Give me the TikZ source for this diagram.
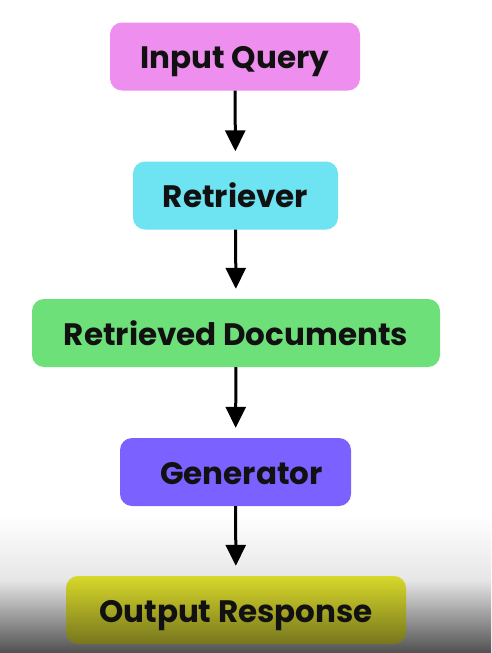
\documentclass[tikz,border=0pt]{standalone}
\usepackage{fontspec}
\setmainfont{Poppins}
\usetikzlibrary{arrows.meta}
\definecolor{cpink}{HTML}{EE8EEE}
\definecolor{ccyan}{HTML}{6EE3F2}
\definecolor{cgreen}{HTML}{6EE07A}
\definecolor{cpurple}{HTML}{7B61FF}
\definecolor{cyelT}{HTML}{D8D82A}
\definecolor{cyelB}{HTML}{76761E}
\definecolor{gmid}{HTML}{E6E6E6}
\definecolor{gbot}{HTML}{4F4F4F}
\definecolor{txt}{HTML}{111111}
\tikzset{
  box/.style={rounded corners=12pt, minimum height=68pt, inner sep=0pt,
    text height=28pt, text depth=4pt,
    font=\fontsize{31}{34}\selectfont\bfseries, text=txt},
  flow/.style={line width=3pt, -{Triangle[length=21pt,width=20pt]}, shorten >=10pt}
}
\begin{document}
\begin{tikzpicture}[x=1pt,y=-1pt]
\useasboundingbox (0,0) rectangle (491,653);
\fill[white] (0,0) rectangle (491,653);
\shade[top color=white, bottom color=gmid] (0,515) rectangle (491,580);
\shade[top color=gmid, bottom color=gbot] (0,580) rectangle (491,653.5);
\node[box, fill=cpink, minimum width=250pt] (q) at (235,56.5) {Input Query};
\node[box, fill=ccyan, minimum width=205pt] (r) at (235.5,195.5) {Retriever};
\node[box, fill=cgreen, minimum width=408pt] (d) at (236,333) {Retrieved Documents};
\node[box, fill=cpurple, minimum width=231pt] (g) at (235.5,472) {\hspace*{12pt}Generator};
\node[box, top color=cyelT, bottom color=cyelB, minimum width=340pt] (o) at (236,610) {Output Response};
\draw[flow] (q) -- (r);
\draw[flow] (r) -- (d);
\draw[flow] (d) -- (g);
\draw[flow] (g) -- (o);
\end{tikzpicture}
\end{document}
